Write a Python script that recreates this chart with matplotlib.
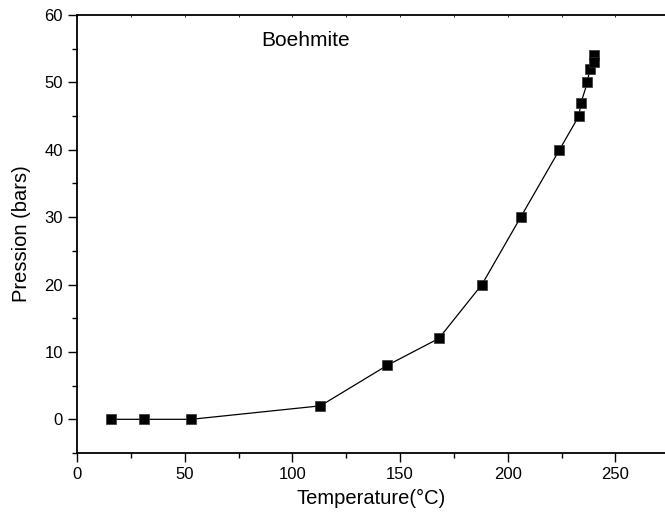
import matplotlib
matplotlib.use("Agg")
from matplotlib import pyplot as plt
from matplotlib.ticker import MultipleLocator

temperature = [16, 31, 53, 113, 144, 168, 188, 206, 224, 233, 234, 237, 238, 240, 240]
pression = [0, 0, 0, 2, 8, 12, 20, 30, 40, 45, 47, 50, 52, 54, 53]

plt.rcParams['font.family'] = ['Liberation Sans', 'DejaVu Sans']

fig = plt.figure(figsize=(6.65, 5.21), dpi=100)
ax = fig.add_axes([0.1158, 0.1305, 0.8842, 0.8407])

ax.plot(temperature, pression, color='black', linewidth=0.9, marker='s',
        markersize=6.6, markerfacecolor='black', markeredgecolor='#333333',
        markeredgewidth=0.5)

ax.set_xlim(0, 273)
ax.set_ylim(-5, 60)
ax.xaxis.set_major_locator(MultipleLocator(50))
ax.xaxis.set_minor_locator(MultipleLocator(25))
ax.yaxis.set_major_locator(MultipleLocator(10))
ax.yaxis.set_minor_locator(MultipleLocator(5))

ax.spines['right'].set_visible(False)
for s in ['left', 'bottom', 'top']:
    ax.spines[s].set_linewidth(1.3)

ax.tick_params(which='major', direction='out', length=6.5, width=1, labelsize=12,
               top=False, right=False)
ax.tick_params(which='minor', direction='out', length=3.5, width=1,
               top=False, right=False)

# small inward ticks along the top frame
sec = ax.secondary_xaxis('top')
sec.xaxis.set_major_locator(MultipleLocator(25))
sec.tick_params(direction='in', length=1.5, width=0.6, labeltop=False)
sec.spines['top'].set_visible(False)

ax.set_xlabel('Temperature(°C)', fontsize=14.5, labelpad=5)
ax.set_ylabel('Pression (bars)', fontsize=14.5, labelpad=10)
ax.text(85.6, 56.2, 'Boehmite', fontsize=15, ha='left', va='center')

plt.savefig('out.png', dpi=100)
